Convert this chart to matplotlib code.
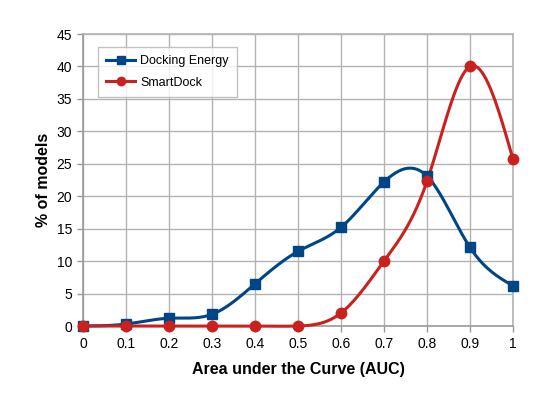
import numpy as np
import matplotlib
matplotlib.use("Agg")
import matplotlib.pyplot as plt

plt.rcParams['font.family'] = ['Liberation Sans', 'DejaVu Sans']

auc = [0, 0.1, 0.2, 0.3, 0.4, 0.5, 0.6, 0.7, 0.8, 0.9, 1.0]
docking_energy = [0, 0.3, 1.2, 1.8, 6.5, 11.5, 15.2, 22.2, 23.1, 12.1, 6.2]
smartdock = [0, 0, 0, 0, 0, 0, 2.0, 10.0, 22.3, 40.0, 25.7]
xticks = [0, 0.1, 0.2, 0.3, 0.4, 0.5, 0.6, 0.7, 0.8, 0.9, 1]
xticklabels = ['0', '0.1', '0.2', '0.3', '0.4', '0.5', '0.6', '0.7', '0.8', '0.9', '1']
yticks = list(range(0, 50, 5))


def natural_spline(x, y, n=400):
    # smooth line through the points, like the office chart "cubic spline"
    x = np.asarray(x, float)
    y = np.asarray(y, float)
    k = len(x)
    h = np.diff(x)
    A = np.zeros((k, k))
    b = np.zeros(k)
    A[0, 0] = A[-1, -1] = 1
    for i in range(1, k - 1):
        A[i, i - 1] = h[i - 1]
        A[i, i] = 2 * (h[i - 1] + h[i])
        A[i, i + 1] = h[i]
        b[i] = 6 * ((y[i + 1] - y[i]) / h[i] - (y[i] - y[i - 1]) / h[i - 1])
    M = np.linalg.solve(A, b)
    xs = np.linspace(x[0], x[-1], n)
    idx = np.clip(np.searchsorted(x, xs) - 1, 0, k - 2)
    x0, x1 = x[idx], x[idx + 1]
    hh = x1 - x0
    t0, t1 = x1 - xs, xs - x0
    ys = (M[idx] * t0**3 + M[idx + 1] * t1**3) / (6 * hh) \
        + (y[idx] / hh - M[idx] * hh / 6) * t0 \
        + (y[idx + 1] / hh - M[idx + 1] * hh / 6) * t1
    return xs, ys


blue = '#004586'
red = '#c9211e'

fig = plt.figure(figsize=(5.56, 3.93), dpi=100)
ax = fig.add_axes([83 / 556, 1 - 326 / 393, 430 / 556, 292 / 393])

xs, ys = natural_spline(auc, docking_energy)
ax.plot(xs, ys, color=blue, lw=2.2, zorder=3, clip_on=False)
xs, ys = natural_spline(auc, smartdock)
ax.plot(xs, ys, color=red, lw=2.2, zorder=3, clip_on=False)
ax.plot(auc, docking_energy, ls='none', marker='s', ms=7.5, color=blue, zorder=4, clip_on=False)
ax.plot(auc, smartdock, ls='none', marker='o', ms=7.5, color=red, zorder=5, clip_on=False)

# legend handles
ax.plot([], [], color=blue, lw=2.2, marker='s', ms=6, label='Docking Energy')
ax.plot([], [], color=red, lw=2.2, marker='o', ms=6, label='SmartDock')

ax.set_xlim(0, 1)
ax.set_ylim(0, 45)
ax.set_xticks(xticks)
ax.set_xticklabels(xticklabels)
ax.set_yticks(yticks)
ax.grid(True, color='#b3b3b3', lw=1)
ax.set_axisbelow(True)
for s in ax.spines.values():
    s.set_color('#b3b3b3')
    s.set_linewidth(1.2)
ax.spines['left'].set_color('#999999')
ax.spines['bottom'].set_color('#999999')
ax.tick_params(axis='both', length=4, width=1, color='#999999', labelsize=10, pad=4)

ax.set_xlabel('Area under the Curve (AUC)', fontsize=11.5, fontweight='bold', labelpad=8)
ax.set_ylabel('% of models', fontsize=11.5, fontweight='bold', labelpad=4)

leg = ax.legend(loc='upper left', bbox_to_anchor=(0.035, 0.955), fontsize=9,
                frameon=True, fancybox=False, handlelength=2.3, borderpad=0.65,
                labelspacing=0.75, handletextpad=0.4, borderaxespad=0)
leg.get_frame().set_edgecolor('#b3b3b3')
leg.get_frame().set_linewidth(1)

fig.savefig('out.png', dpi=100)
